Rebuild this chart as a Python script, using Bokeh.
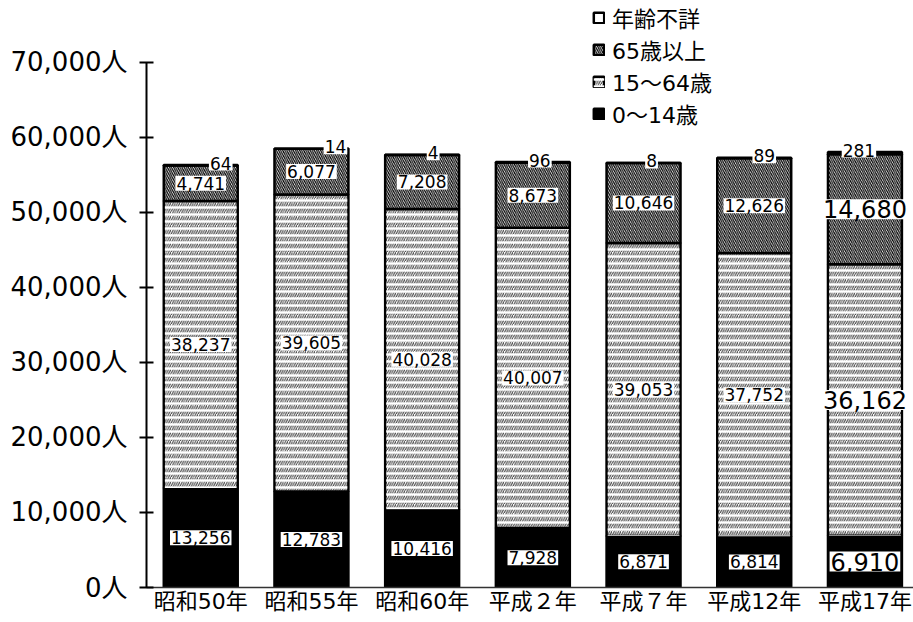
from bokeh.plotting import figure
from bokeh.models import (ColumnDataSource, Range1d, FixedTicker, Legend, LegendItem)
from bokeh.core.properties import value
from bokeh.embed import file_html
from bokeh.resources import INLINE

categories = ["昭和50年", "昭和55年", "昭和60年", "平成２年", "平成７年", "平成12年", "平成17年"]
age_0_14 = [13256, 12783, 10416, 7928, 6871, 6814, 6910]
age_15_64 = [38237, 39605, 40028, 40007, 39053, 37752, 36162]
age_65_plus = [4741, 6077, 7208, 8673, 10646, 12626, 14680]
age_unknown = [64, 14, 4, 96, 8, 89, 281]
y_ticks = [0, 10000, 20000, 30000, 40000, 50000, 60000, 70000]
y_tick_labels = ["0人", "10,000人", "20,000人", "30,000人", "40,000人", "50,000人", "60,000人", "70,000人"]
series_names = ["0～14歳", "15～64歳", "65歳以上", "年齢不詳"]

# label styling (last year is drawn larger in the original)
label_sizes = ["17px"] * 6 + ["24px"]
unknown_dx = [20, 24, 11, 7, 8, 10, -6]

FONT = "DejaVu Sans, Noto Sans CJK JP"
n = len(categories)
xs = list(range(n))
b1 = [0] * n
t1 = [b1[i] + age_0_14[i] for i in range(n)]
t2 = [t1[i] + age_15_64[i] for i in range(n)]
t3 = [t2[i] + age_65_plus[i] for i in range(n)]
t4 = [t3[i] + age_unknown[i] for i in range(n)]

def fmt(v):
    return f"{v:,}"

src = ColumnDataSource(dict(
    x=xs, b1=b1, t1=t1, t2=t2, t3=t3, t4=t4,
    m1=[(b1[i] + t1[i]) / 2 for i in range(n)],
    m2=[(t1[i] + t2[i]) / 2 for i in range(n)],
    m3=[(t2[i] + t3[i]) / 2 for i in range(n)],
    l1=[fmt(v) for v in age_0_14],
    l2=[fmt(v) for v in age_15_64],
    l3=[fmt(v) for v in age_65_plus],
    l4=[fmt(v) for v in age_unknown],
    size=label_sizes,
    dx=unknown_dx,
))

pitch = 110.7
frame_w = 913 - 146
x0 = -0.49
y_top = 586.7 / 0.0075

p = figure(width=913, height=622, output_backend="svg", toolbar_location=None,
           x_range=Range1d(x0, x0 + frame_w / pitch), y_range=Range1d(0, y_top),
           min_border_left=146, min_border_right=0, min_border_top=0, min_border_bottom=35)
p.outline_line_color = None
p.xgrid.visible = False
p.ygrid.visible = False
p.background_fill_color = "white"
p.border_fill_color = "white"

W = 0.668
LW = 2.5
r_014 = p.vbar(x="x", width=W, bottom="b1", top="t1", source=src,
               fill_color="black", line_color="black", line_width=LW)
r_1564 = p.vbar(x="x", width=W, bottom="t1", top="t2", source=src,
                fill_color="white", line_color="black", line_width=LW,
                hatch_pattern="/", hatch_color="#444444", hatch_scale=4.5, hatch_weight=1.1)
r_ov = p.vbar(x="x", width=W - 0.02, bottom="t1", top="t2", source=src,
              fill_color=None, line_color=None,
              hatch_pattern="-", hatch_color="white", hatch_scale=7, hatch_weight=2.4)
r_65 = p.vbar(x="x", width=W, bottom="t2", top="t3", source=src,
              fill_color="white", line_color="black", line_width=LW,
              hatch_pattern="\\", hatch_color="black", hatch_scale=4.2, hatch_weight=1.2)
r_unk = p.vbar(x="x", width=W, bottom="t3", top="t4", source=src,
               fill_color="white", line_color="black", line_width=LW)

common = dict(source=src, text_font=value(FONT), text_align="center", text_baseline="middle",
              text_color="black", background_fill_color="white", padding=1)
p.text(x="x", y="m1", text="l1", text_font_size="size", **common)
p.text(x="x", y="m2", text="l2", text_font_size="size", **common)
p.text(x="x", y="m3", text="l3", text_font_size="size", **common)
p.text(x="x", y="t4", text="l4", text_font_size="17px", x_offset="dx", y_offset=-2, **common)

# axes
p.yaxis.ticker = FixedTicker(ticks=y_ticks)
p.yaxis.major_label_overrides = {t: lab for t, lab in zip(y_ticks, y_tick_labels)}
p.yaxis.bounds = (0, 70000)
p.yaxis.axis_line_width = 2
p.yaxis.axis_line_color = "black"
p.yaxis.major_tick_line_width = 2
p.yaxis.major_tick_line_color = "black"
p.yaxis.major_tick_in = 7
p.yaxis.major_tick_out = 7
p.yaxis.minor_tick_line_color = None
p.yaxis.major_label_text_font = FONT
p.yaxis.major_label_text_font_size = "26px"
p.yaxis.major_label_text_color = "black"
p.yaxis.major_label_standoff = 12

p.xaxis.ticker = FixedTicker(ticks=xs)
p.xaxis.major_label_overrides = {i: c for i, c in enumerate(categories)}
p.xaxis.axis_line_color = "#333333"
p.xaxis.axis_line_width = 1.5
p.xaxis.major_tick_line_color = None
p.xaxis.minor_tick_line_color = None
p.xaxis.major_tick_out = 0
p.xaxis.major_tick_in = 0
p.xaxis.major_label_text_font = FONT
p.xaxis.major_label_text_font_size = "22px"
p.xaxis.major_label_text_color = "black"
p.xaxis.major_label_standoff = 1

legend = Legend(items=[
    LegendItem(label=series_names[3], renderers=[r_unk]),
    LegendItem(label=series_names[2], renderers=[r_65]),
    LegendItem(label=series_names[1], renderers=[r_1564, r_ov]),
    LegendItem(label=series_names[0], renderers=[r_014]),
], location=(446, 458), orientation="vertical")
legend.label_text_font = FONT
legend.label_text_font_size = "22px"
legend.label_text_color = "black"
legend.glyph_width = 13
legend.glyph_height = 13
legend.label_height = 22
legend.label_standoff = 7
legend.spacing = -3
legend.padding = 0
legend.margin = 0
legend.border_line_color = None
legend.background_fill_alpha = 0
p.add_layout(legend)

open("out.html", "w").write(file_html(p, INLINE))
